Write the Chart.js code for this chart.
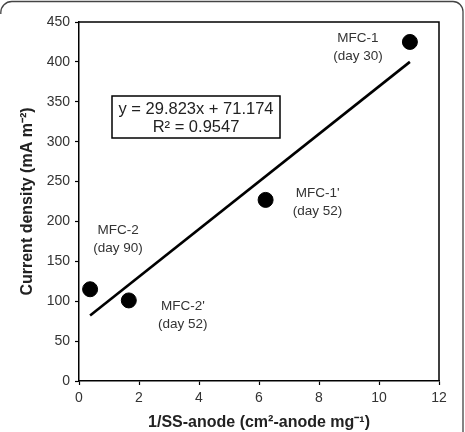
<!DOCTYPE html>
<html>
<head>
<meta charset="utf-8">
<script src="https://cdn.jsdelivr.net/npm/chart.js@4.4.1/dist/chart.umd.min.js"></script>
<style>
  html, body { margin: 0; padding: 0; background: #fff; }
  #wrap { width: 465px; height: 432px; position: relative; }
</style>
</head>
<body>
<div id="wrap"><canvas id="myChart" width="465" height="432"></canvas></div>
<script>
// measured points (1/SS-anode vs current density)
const xValues = [11.03, 6.22, 0.37, 1.66];
const yValues = [425, 227, 115, 101];
const pointNames = ['MFC-1', "MFC-1'", 'MFC-2', "MFC-2'"];
const pointDays = ['(day 30)', '(day 52)', '(day 90)', '(day 52)'];

// linear fit drawn by excel, end points
const trendX = [0.37, 11.03];
const trendY = [82, 400];
const equationText = ['y = 29.823x + 71.174', 'R\u00B2 = 0.9547'];

const xTicks = [0, 2, 4, 6, 8, 10, 12];
const yTicks = [0, 50, 100, 150, 200, 250, 300, 350, 400, 450];

// label offsets from each point (px)
const labelOffsets = [[-52, -4], [52, -7], [28, -59], [54, 6]];

const font = "'Liberation Sans', Arial, sans-serif";

const extras = {
    id: 'extras',
    afterDraw(chart) {
        const ctx = chart.ctx;
        const a = chart.chartArea;
        const xs = chart.scales.x, ys = chart.scales.y;
        ctx.save();
        // top / right box lines
        ctx.strokeStyle = '#000';
        ctx.lineWidth = 1.5;
        ctx.beginPath();
        ctx.moveTo(a.left, a.top);
        ctx.lineTo(a.right, a.top);
        ctx.lineTo(a.right, a.bottom);
        ctx.stroke();

        // point labels
        ctx.fillStyle = '#333';
        ctx.font = '13.5px ' + font;
        ctx.textAlign = 'center';
        ctx.textBaseline = 'middle';
        for (let i = 0; i < xValues.length; i++) {
            const px = xs.getPixelForValue(xValues[i]) + labelOffsets[i][0];
            const py = ys.getPixelForValue(yValues[i]) + labelOffsets[i][1];
            ctx.fillText(pointNames[i], px, py);
            ctx.fillText(pointDays[i], px, py + 18);
        }

        // equation box
        const bx = a.left + 33, by = a.top + 74, bw = 168, bh = 42;
        ctx.fillStyle = '#fff';
        ctx.fillRect(bx, by, bw, bh);
        ctx.strokeStyle = '#000';
        ctx.lineWidth = 1.5;
        ctx.strokeRect(bx, by, bw, bh);
        ctx.fillStyle = '#222';
        ctx.font = '16.5px ' + font;
        ctx.fillText(equationText[0], bx + bw / 2, by + 13);
        ctx.fillText(equationText[1], bx + bw / 2, by + 31);

        // outer frame (top and right, rounded)
        ctx.strokeStyle = '#444';
        ctx.lineWidth = 1.3;
        ctx.beginPath();
        ctx.moveTo(0.8, 14);
        ctx.arcTo(0.8, 1.5, 12, 1.5, 11);
        ctx.lineTo(452, 1.5);
        ctx.arcTo(463, 1.5, 463, 12, 10);
        ctx.lineTo(463, 432);
        ctx.stroke();
        ctx.restore();
    }
};

const tickFont = { family: font, size: 14 };
const titleFont = { family: font, size: 16, weight: 'bold' };

const config = {
    type: 'scatter',
    data: {
        datasets: [{
            label: 'points',
            data: xValues.map((x, i) => ({ x: x, y: yValues[i] })),
            backgroundColor: '#000',
            borderColor: '#000',
            pointRadius: 7.5,
            pointHoverRadius: 7.5,
            order: 1
        }, {
            type: 'line',
            label: 'fit',
            data: trendX.map((x, i) => ({ x: x, y: trendY[i] })),
            borderColor: '#000',
            borderWidth: 2.6,
            pointRadius: 0,
            fill: false,
            order: 2
        }]
    },
    options: {
        responsive: false,
        animation: false,
        layout: { padding: { top: 22, right: 26, left: 18, bottom: 0 } },
        plugins: { legend: { display: false }, tooltip: { enabled: false } },
        scales: {
            x: {
                type: 'linear',
                min: 0, max: 12,
                afterBuildTicks: (s) => { s.ticks = xTicks.map(v => ({ value: v })); },
                afterFit: (s) => { s.height = 51; },
                grid: { drawOnChartArea: false, color: '#000', tickLength: 4, tickWidth: 1.2 },
                border: { color: '#000', width: 1.5 },
                ticks: { color: '#333', font: tickFont, padding: 5 },
                title: { display: true, text: '1/SS-anode (cm\u00B2-anode mg\u207B\u00B9)', color: '#222', font: titleFont, padding: { top: 4, bottom: 0 } }
            },
            y: {
                min: 0, max: 450,
                afterBuildTicks: (s) => { s.ticks = yTicks.map(v => ({ value: v })); },
                afterFit: (s) => { s.width = 61; },
                grid: { drawOnChartArea: false, color: '#000', tickLength: 4, tickWidth: 1.2 },
                border: { color: '#000', width: 1.5 },
                ticks: { color: '#333', font: tickFont, padding: 5 },
                title: { display: true, text: 'Current density (mA m\u207B\u00B2)', color: '#222', font: titleFont, padding: { top: 0, bottom: 4 } }
            }
        }
    },
    plugins: [extras]
};

var myChart = new Chart(document.getElementById('myChart'), config);
</script>
</body>
</html>
